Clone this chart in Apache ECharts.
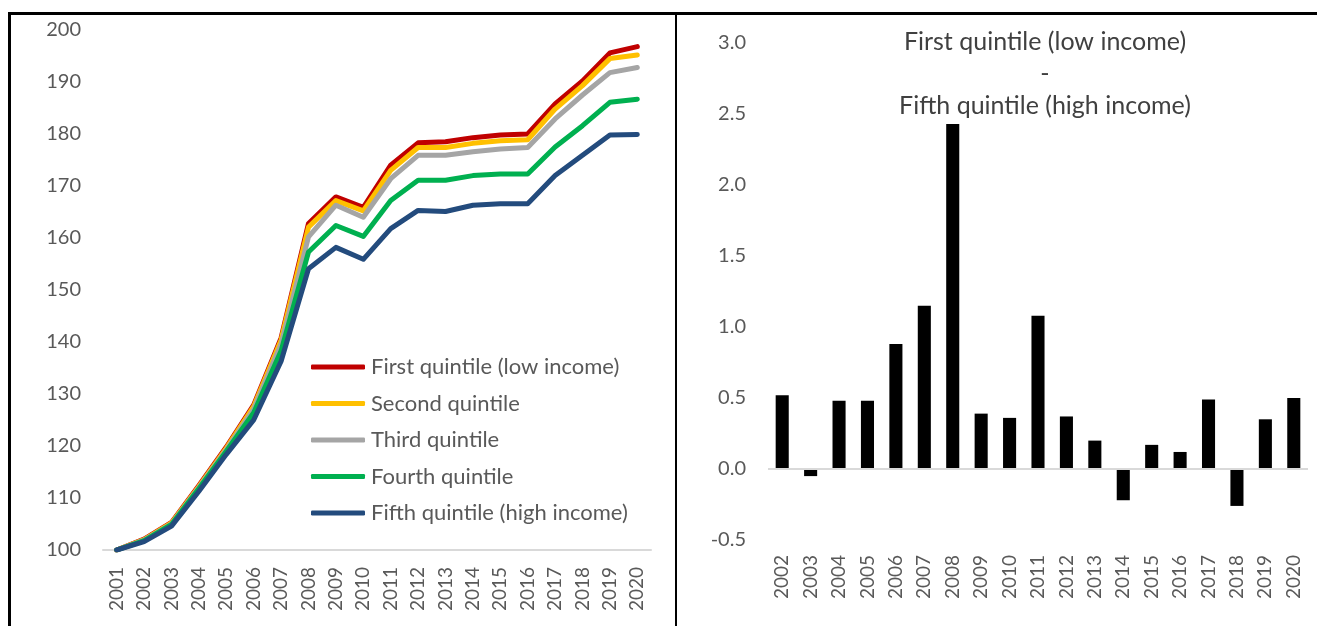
<!DOCTYPE html>
<html>
<head>
<meta charset="utf-8">
<script src="https://cdn.jsdelivr.net/npm/echarts@6/dist/echarts.min.js"></script>
<style>
  html, body { margin: 0; padding: 0; background: #fff; }
  #chart { width: 1317px; height: 626px; }
</style>
</head>
<body>
<div id="chart"></div>
<script>
// index 2001 = 100
const years = ['2001','2002','2003','2004','2005','2006','2007','2008','2009','2010',
               '2011','2012','2013','2014','2015','2016','2017','2018','2019','2020']
const firstQ  = [100, 102.1, 105.3, 112.4, 119.8, 127.9, 140.8, 162.8, 167.9, 165.9, 174.0, 178.3, 178.5, 179.3, 179.8, 180.0, 185.8, 190.2, 195.6, 196.8]
const secondQ = [100, 102.0, 105.2, 112.2, 119.6, 127.6, 140.4, 162.1, 167.2, 165.2, 173.0, 177.4, 177.4, 178.2, 178.7, 178.9, 184.8, 189.3, 194.5, 195.2]
const thirdQ  = [100, 101.9, 105.0, 112.0, 119.3, 127.1, 139.6, 160.2, 166.3, 164.0, 171.4, 175.9, 175.9, 176.6, 177.1, 177.4, 182.9, 187.5, 191.8, 192.8]
const fourthQ = [100, 101.8, 104.9, 111.8, 119.0, 126.4, 138.3, 157.3, 162.4, 160.3, 167.2, 171.1, 171.1, 172.0, 172.3, 172.3, 177.5, 181.6, 186.1, 186.7]
const fifthQ  = [100, 101.6, 104.6, 111.3, 118.4, 125.0, 136.3, 154.1, 158.2, 155.9, 161.8, 165.3, 165.1, 166.3, 166.6, 166.6, 172.0, 175.9, 179.8, 179.9]

// first minus fifth quintile
const diffYears = years.slice(1)
const diffValues = [0.52, -0.05, 0.48, 0.48, 0.88, 1.15, 2.43, 0.39, 0.36, 1.08, 0.37, 0.20, -0.22, 0.17, 0.12, 0.49, -0.26, 0.35, 0.50]

const seriesNames = ['First quintile (low income)', 'Second quintile', 'Third quintile', 'Fourth quintile', 'Fifth quintile (high income)']
const seriesColors = ['#c00000', '#ffc000', '#a5a5a5', '#00b050', '#234b7d']
const seriesData = [firstQ, secondQ, thirdQ, fourthQ, fifthQ]

const font = 'Lato, "Open Sans", sans-serif'
const textColor = '#595959'

const lines = seriesNames.map((name, i) => ({
    name: name,
    type: 'line',
    xAxisIndex: 0,
    yAxisIndex: 0,
    data: seriesData[i],
    symbol: 'none',
    color: seriesColors[i],
    lineStyle: { width: 5, color: seriesColors[i], cap: 'round', join: 'round' }
}))

const option = {
    backgroundColor: '#fff',
    animation: false,
    textStyle: { fontFamily: font },
    title: {
        text: 'First quintile (low income)\n-\nFifth quintile (high income)',
        left: 1045,
        top: 26,
        padding: 0,
        textAlign: 'center',
        textStyle: { fontFamily: font, fontSize: 25, fontWeight: 'normal', color: '#404040', lineHeight: 32 }
    },
    legend: {
        orient: 'vertical',
        left: 311,
        top: 356,
        padding: 0,
        icon: 'roundRect',
        itemWidth: 54,
        itemHeight: 5,
        itemGap: 14.5,
        data: seriesNames,
        textStyle: { fontFamily: font, fontSize: 22, color: textColor, lineHeight: 22, padding: [0, 0, 0, 1] }
    },
    grid: [
        { left: 103, right: 666, top: 30, bottom: 76 },
        { left: 768, right: 9, top: 43, bottom: 86 }
    ],
    xAxis: [
        {
            gridIndex: 0,
            type: 'category',
            data: years,
            boundaryGap: true,
            axisLine: { lineStyle: { color: '#d9d9d9', width: 2 } },
            axisTick: { show: false },
            axisLabel: { rotate: 90, margin: 17, fontFamily: font, fontSize: 19, color: textColor, interval: 0 }
        },
        {
            gridIndex: 1,
            type: 'category',
            data: diffYears,
            axisLine: { show: false, onZero: false },
            axisTick: { show: false },
            axisLabel: { rotate: 90, margin: 15, fontFamily: font, fontSize: 19, color: textColor, interval: 0 }
        }
    ],
    yAxis: [
        {
            gridIndex: 0,
            type: 'value',
            min: 100, max: 200, interval: 10,
            axisLine: { show: false },
            axisTick: { show: false },
            splitLine: { show: false },
            axisLabel: { margin: 22, fontFamily: font, fontSize: 20, color: textColor }
        },
        {
            gridIndex: 1,
            type: 'value',
            min: -0.5, max: 3.0, interval: 0.5,
            axisLine: { show: false },
            axisTick: { show: false },
            splitLine: { show: false },
            axisLabel: { margin: 22, fontFamily: font, fontSize: 20, color: textColor, formatter: v => v.toFixed(1) }
        }
    ],
    series: lines.concat([{
        name: 'diff',
        type: 'bar',
        xAxisIndex: 1,
        yAxisIndex: 1,
        data: diffValues,
        barWidth: '46%',
        itemStyle: { color: '#000' },
        markLine: {
            silent: true,
            symbol: 'none',
            label: { show: false },
            lineStyle: { color: '#d9d9d9', width: 2, type: 'solid' },
            data: [{ yAxis: 0 }]
        }
    }]),
    // table frame around the two panels
    graphic: [
        { type: 'rect', shape: { x: 8, y: 12, width: 1309, height: 3 }, style: { fill: '#000' } },
        { type: 'rect', shape: { x: 8, y: 12, width: 3, height: 614 }, style: { fill: '#000' } },
        { type: 'rect', shape: { x: 675, y: 12, width: 2, height: 614 }, style: { fill: '#000' } }
    ]
}

const chart = echarts.init(document.getElementById('chart'))
chart.setOption(option)
</script>
</body>
</html>
